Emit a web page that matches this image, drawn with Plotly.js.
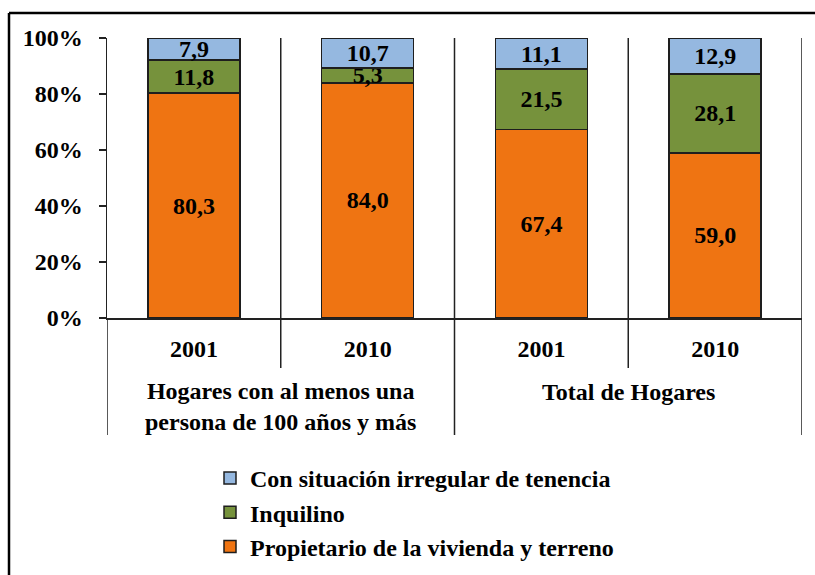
<!DOCTYPE html>
<html>
<head>
<meta charset="utf-8">
<script src="https://cdn.plot.ly/plotly-3.0.1.min.js"></script>
<style>
html,body{margin:0;padding:0;background:#fff;}
#chart{width:815px;height:575px;}
</style>
</head>
<body>
<div id="chart"></div>
<script>
// ---- data ----
var years = ["2001", "2010", "2001", "2010"];
var groups = ["Hogares con al menos una<br>persona de 100 años y más", "Total de Hogares"];
var propietario = [80.3, 84.0, 67.4, 59.0];
var inquilino = [11.8, 5.3, 21.5, 28.1];
var irregular = [7.9, 10.7, 11.1, 12.9];
var seriesNames = ["Propietario de la vivienda y terreno", "Inquilino", "Con situación irregular de tenencia"];
var yTicks = [0, 20, 40, 60, 80, 100];
var yTickText = ["0%", "20%", "40%", "60%", "80%", "100%"];

var xpos = years.map(function(_, i){ return i; });
var FONT = "Liberation Serif";
var FS = 24;

function barTrace(vals, name, color, rank, grp){
  return {
    type: "bar",
    x: xpos,
    y: vals,
    name: name,
    legendrank: rank,
    legendgroup: grp,
    marker: {color: color, line: {color: "#1e1e1e", width: 1.5}},
    texttemplate: "%{y:.1f}",
    textposition: "inside",
    insidetextanchor: "middle",
    textangle: 0,
    textfont: {family: FONT, size: FS, color: "#000", weight: "bold"},
    hoverinfo: "skip"
  };
}

var traces = [
  barTrace(propietario, seriesNames[0], "#EF7412", 3, "c"),
  barTrace(inquilino, seriesNames[1], "#76923C", 2, "b"),
  barTrace(irregular, seriesNames[2], "#95B8E0", 1, "a")
];

function py(pixel){ return (318 - pixel) / 280; }

var shapes = [];
[0.5, 2.5].forEach(function(xv){
  shapes.push({type:"line", xref:"x", yref:"paper", x0:xv, x1:xv, y0:1, y1:py(368), line:{color:"#222", width:1.5}});
});
[-0.5, 1.5, 3.5].forEach(function(xv){
  shapes.push({type:"line", xref:"x", yref:"paper", x0:xv, x1:xv, y0:(xv===-0.5?0:1), y1:py(435), line:{color:"#222", width:1.5}});
});
shapes.push({type:"line", xref:"paper", yref:"paper", x0:(9-107)/695, x1:(9-107)/695, y0:py(13), y1:py(600), line:{color:"#000", width:2.5}});
shapes.push({type:"line", xref:"paper", yref:"paper", x0:(9-107)/695, x1:(830-107)/695, y0:py(13), y1:py(13), line:{color:"#000", width:2.5}});

var annotations = [
  {xref:"x", yref:"paper", x:0.5, y:py(406), text:groups[0], showarrow:false, xanchor:"center", yanchor:"middle",
   font:{family:FONT, size:FS, color:"#000", weight:"bold"}},
  {xref:"x", yref:"paper", x:2.5, y:py(392), text:groups[1], showarrow:false, xanchor:"center", yanchor:"middle",
   font:{family:FONT, size:FS, color:"#000", weight:"bold"}}
];

var layout = {
  width: 815, height: 575,
  margin: {l:107, r:13, t:38, b:257, pad:0, autoexpand:false},
  paper_bgcolor: "#fff", plot_bgcolor: "rgba(0,0,0,0)",
  barmode: "stack",
  bargap: 0.47,
  separators: ",.",
  uniformtext: {mode: "show", minsize: FS},
  font: {family: FONT, size: FS, color: "#000", weight: "bold"},
  xaxis: {
    range: [-0.5, 3.5],
    tickmode: "array", tickvals: xpos, ticktext: years,
    ticks: "", showgrid: false, zeroline: false,
    showline: true, linecolor: "#222", linewidth: 1.5,
    tickfont: {family: FONT, size: FS, color: "#000", weight: "bold"},
    ticklabelstandoff: 9,
    fixedrange: true
  },
  yaxis: {
    range: [0, 100],
    tickmode: "array", tickvals: yTicks, ticktext: yTickText,
    ticks: "outside", ticklen: 7, tickwidth: 1.5, tickcolor: "#222",
    showgrid: false, zeroline: false,
    showline: true, linecolor: "#222", linewidth: 1.5,
    tickfont: {family: FONT, size: FS, color: "#000", weight: "bold"},
    ticklabelstandoff: 11,
    fixedrange: true
  },
  showlegend: true,
  legend: {
    x: (210-107)/695, xanchor: "left",
    y: py(456), yanchor: "top",
    traceorder: "grouped",
    tracegroupgap: 0,
    font: {family: FONT, size: FS, color: "#000", weight: "bold"},
    bgcolor: "rgba(0,0,0,0)"
  },
  shapes: shapes,
  annotations: annotations
};

Plotly.newPlot("chart", traces, layout, {staticPlot: true, displayModeBar: false});
</script>
</body>
</html>
